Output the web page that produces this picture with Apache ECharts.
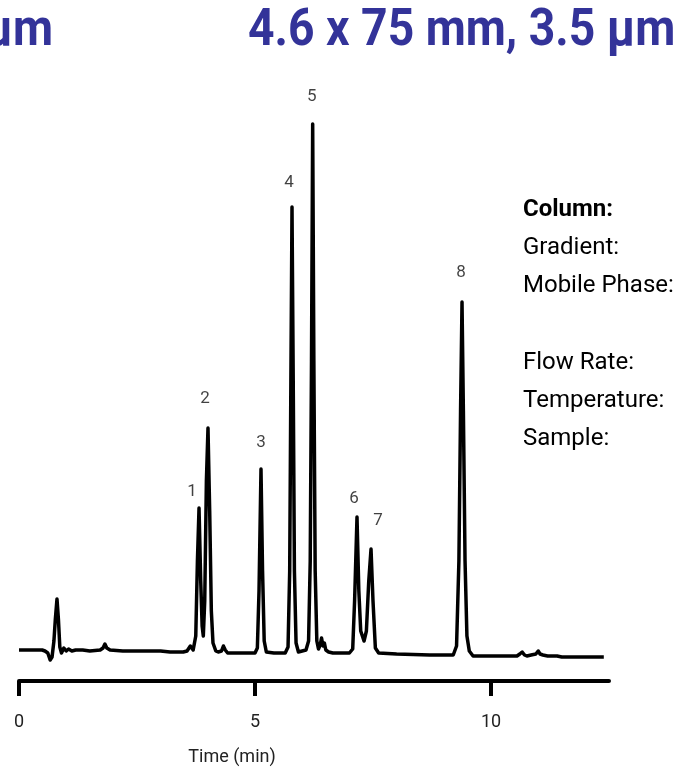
<!DOCTYPE html>
<html>
<head>
<meta charset="utf-8">
<title>Chromatogram</title>
<script src="https://cdn.jsdelivr.net/npm/echarts@6/dist/echarts.min.js"></script>
<style>
  html, body { margin: 0; padding: 0; background: #fff; }
  #chart { width: 681px; height: 768px; }
</style>
</head>
<body>
<div id="chart"></div>
<script>
// Detector trace: [time (min), signal]
const tracePoints = [
  [0.00, 31], [0.49, 31], [0.55, 30], [0.61, 28], [0.66, 21], [0.70, 24], [0.74, 40], [0.77, 62],
  [0.805, 82], [0.835, 62], [0.865, 34], [0.90, 28], [0.95, 33], [1.00, 30], [1.05, 32], [1.12, 30],
  [1.20, 31], [1.35, 31], [1.50, 30], [1.72, 31], [1.78, 33], [1.82, 37], [1.86, 33], [1.93, 31],
  [2.20, 30], [2.60, 30], [3.00, 30], [3.20, 29], [3.48, 29], [3.56, 30], [3.63, 35], [3.69, 31],
  [3.745, 45], [3.78, 120], [3.814, 173], [3.85, 100], [3.88, 55], [3.905, 45], [3.935, 80],
  [3.97, 200], [4.004, 253], [4.04, 170], [4.075, 70], [4.11, 38], [4.17, 30], [4.22, 29],
  [4.29, 30], [4.33, 35], [4.37, 31], [4.42, 28], [4.60, 28], [5.00, 28], [5.05, 33], [5.085, 90],
  [5.127, 212], [5.16, 110], [5.195, 40], [5.24, 29], [5.40, 28], [5.64, 28], [5.70, 34],
  [5.735, 110], [5.76, 300], [5.784, 474], [5.81, 300], [5.835, 110], [5.87, 38], [5.92, 29],
  [6.00, 30], [6.08, 31], [6.135, 40], [6.17, 120], [6.197, 320], [6.222, 557], [6.247, 320],
  [6.275, 110], [6.31, 40], [6.345, 32], [6.38, 36], [6.41, 43], [6.44, 35], [6.47, 38], [6.50, 31],
  [6.56, 29], [6.65, 28], [7.00, 28], [7.07, 32], [7.11, 80], [7.161, 164], [7.20, 90], [7.24, 50],
  [7.31, 40], [7.36, 50], [7.41, 100], [7.458, 132], [7.50, 80], [7.55, 33], [7.62, 28], [8.00, 27],
  [8.70, 26], [9.20, 26], [9.27, 35], [9.32, 120], [9.355, 270], [9.386, 379], [9.415, 270],
  [9.45, 120], [9.49, 45], [9.54, 30], [9.62, 25], [10.00, 25], [10.55, 25], [10.61, 27], [10.66, 29],
  [10.71, 26], [10.76, 25], [10.85, 26], [10.95, 27], [11.00, 30], [11.04, 27], [11.10, 26],
  [11.20, 25], [11.40, 25], [11.50, 24], [12.39, 24]
];

// Numbered peaks: retention time and apex signal
const peakIds = ['1', '2', '3', '4', '5', '6', '7', '8'];
const peakTimes = [3.814, 4.004, 5.127, 5.784, 6.222, 7.161, 7.458, 9.386];
const peakHeights = [173, 253, 212, 474, 557, 164, 132, 379];

// Time axis ticks
const tickValues = [0, 5, 10];
const axisTitle = 'Time (min)';

// Header and condition captions
const headingText = '4.6 x 75 mm, 3.5 μm';
const headingTail = 'μm';
const conditionLabels = ['Column:', 'Gradient:', 'Mobile Phase:', '', 'Flow Rate:', 'Temperature:', 'Sample:'];

const FONT = 'Roboto, "Liberation Sans", sans-serif';
const HEAD_COLOR = '#333399';

// label placement relative to each apex (px)
const labelShift = [[-7, -16], [-3, -29], [0, -26], [-3, -24], [-1, -27], [-3, -18], [7, -28], [-1, -29]];

const chart = echarts.init(document.getElementById('chart'), null, { renderer: 'canvas' });

const graphics = [
  {
    type: 'text', x: 248, y: 32, scaleX: 0.89,
    style: {
      text: headingText, fill: HEAD_COLOR, fontFamily: FONT, fontWeight: 'bold', fontSize: 52,
      textAlign: 'left', align: 'left', textVerticalAlign: 'middle', verticalAlign: 'middle'
    }
  },
  {
    type: 'text', x: 53, y: 32, scaleX: 0.89,
    style: {
      text: headingTail, fill: HEAD_COLOR, fontFamily: FONT, fontWeight: 'bold', fontSize: 52,
      textAlign: 'right', align: 'right', textVerticalAlign: 'middle', verticalAlign: 'middle'
    }
  },
  {
    type: 'text', x: 232, y: 757,
    style: {
      text: axisTitle, fill: '#222', fontFamily: FONT, fontSize: 18,
      textAlign: 'center', align: 'center', textVerticalAlign: 'middle', verticalAlign: 'middle'
    }
  }
];

conditionLabels.forEach(function (txt, i) {
  if (!txt) return;
  graphics.push({
    type: 'text', x: 523, y: 210 + 38.2 * i,
    style: {
      text: txt, fill: '#000', fontFamily: FONT, fontSize: 24,
      fontWeight: i === 0 ? 'bold' : 'normal',
      textAlign: 'left', align: 'left', textVerticalAlign: 'middle', verticalAlign: 'middle'
    }
  });
});

const option = {
  animation: false,
  backgroundColor: '#fff',
  grid: { left: 19, right: 72, top: 100, bottom: 87, containLabel: false },
  xAxis: {
    type: 'value', min: 0, max: 12.5, interval: 5,
    splitLine: { show: false },
    axisLine: { show: true, onZero: false, lineStyle: { color: '#000', width: 4 } },
    axisTick: { show: true, length: 15, lineStyle: { color: '#000', width: 4 }, customValues: tickValues },
    axisLabel: { customValues: tickValues, margin: 32, fontSize: 18, fontFamily: FONT, color: '#222' }
  },
  yAxis: { type: 'value', min: 0, max: 581, show: false },
  series: [
    {
      type: 'line',
      data: tracePoints,
      symbol: 'none',
      smooth: false,
      lineStyle: { color: '#000', width: 3.5, join: 'round' }
    },
    {
      type: 'scatter',
      symbolSize: 0,
      itemStyle: { color: 'rgba(0,0,0,0)' },
      data: peakTimes.map(function (t, i) {
        return {
          value: [t, peakHeights[i]],
          name: peakIds[i],
          label: { offset: labelShift[i] }
        };
      }),
      label: {
        show: true, position: 'inside', color: '#111', fontSize: 17, fontFamily: FONT,
        formatter: function (p) { return p.name; }
      }
    }
  ],
  graphic: graphics
};

chart.setOption(option);
</script>
</body>
</html>
